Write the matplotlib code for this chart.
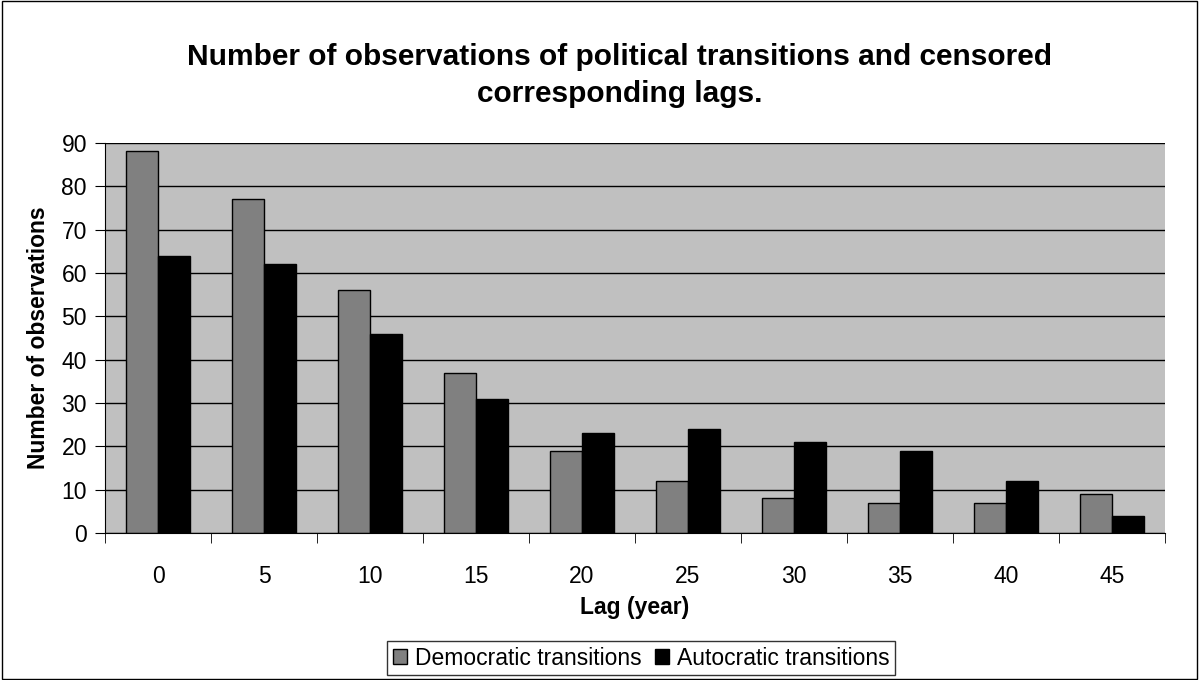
import matplotlib.pyplot as plt
import numpy as np

plt.rcParams['font.family'] = ['Liberation Sans', 'DejaVu Sans']

lags = ["0", "5", "10", "15", "20", "25", "30", "35", "40", "45"]
democratic = [88, 77, 56, 37, 19, 12, 8, 7, 7, 9]
autocratic = [64, 62, 46, 31, 23, 24, 21, 19, 12, 4]

fig = plt.figure(figsize=(11.99, 6.8), dpi=100)
ax = fig.add_axes([0.0876, 0.216, 0.884, 0.574])

x = np.arange(len(lags))
w = 0.3
ax.set_axisbelow(True)
ax.bar(x - w/2, democratic, w, color="#808080", edgecolor="black", linewidth=1, label="Democratic transitions")
ax.bar(x + w/2, autocratic, w, color="black", edgecolor="black", linewidth=1, label="Autocratic transitions")

ax.set_facecolor("#C0C0C0")
ax.set_xlim(-0.5, len(lags) - 0.5)
ax.set_ylim(0, 90)
ax.set_yticks(range(0, 91, 10))
ax.yaxis.grid(True, color="black", linewidth=1)
ax.set_xticks(x)
ax.set_xticklabels(lags)
ax.set_xticks(np.arange(-0.5, len(lags), 1), minor=True)
ax.tick_params(axis="x", which="major", length=0, labelsize=16.5, pad=23)
ax.tick_params(axis="x", which="minor", length=7, direction="out", color="black")
ax.tick_params(axis="y", length=7, direction="out", labelsize=16.5, color="black", pad=6)
for s in ["top", "right"]:
    ax.spines[s].set_visible(False)
ax.spines["left"].set_color("black")
ax.spines["bottom"].set_color("black")

ax.set_xlabel("Lag (year)", fontsize=16.5, fontweight="bold", labelpad=6)
ax.set_ylabel("Number of observations", fontsize=16.5, fontweight="bold", labelpad=8)
fig.text(0.517, 0.889, "Number of observations of political transitions and censored\ncorresponding lags.",
         ha="center", va="center", fontsize=21.5, fontweight="bold", linespacing=1.4)

leg = fig.legend(loc="center", bbox_to_anchor=(0.535, 0.032), ncol=2, fontsize=16.5,
                 frameon=True, fancybox=False, edgecolor="black", handlelength=0.6,
                 handleheight=0.6, handletextpad=0.35, columnspacing=0.6, borderpad=0.25,
                 borderaxespad=0)
leg.get_frame().set_linewidth(1)

fig.patches.append(plt.Rectangle((0.002, 0.002), 0.996, 0.996, transform=fig.transFigure,
                                 fill=False, edgecolor="black", linewidth=1))

fig.savefig("out.png", dpi=100)
